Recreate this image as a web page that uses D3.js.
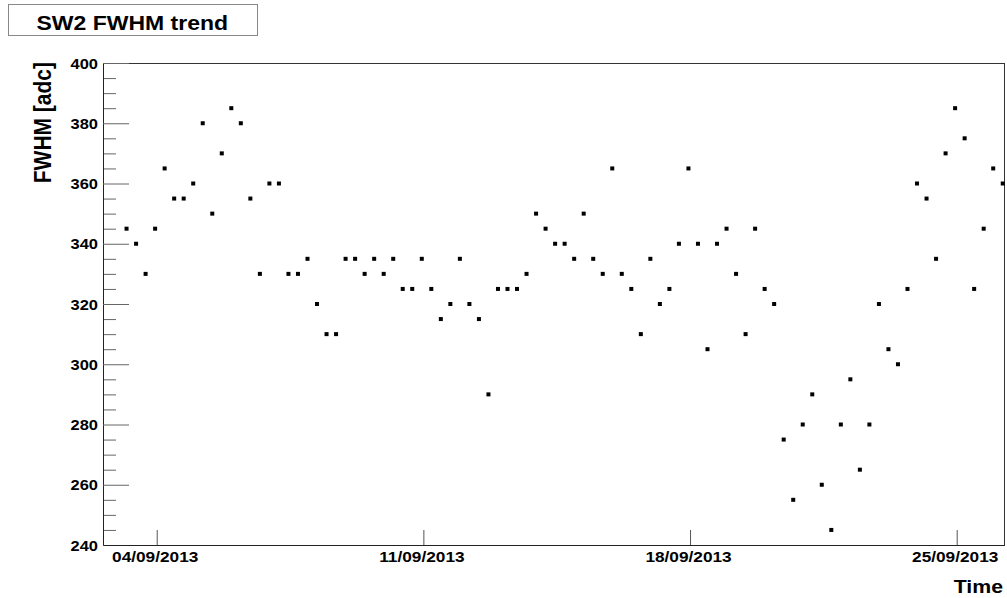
<!DOCTYPE html>
<html><head><meta charset="utf-8">
<script src="https://cdn.jsdelivr.net/npm/d3@7"></script>
<style>
body{margin:0;background:#fff}
text{font-family:"Liberation Sans",Arial,Helvetica,sans-serif;font-weight:bold;fill:#000}
</style>
</head><body>
<svg id="c" width="1007" height="598"></svg>
<script>
// ---------------- data ----------------
const times = [
 "2013-09-03 05:00","2013-09-03 11:00","2013-09-03 17:00","2013-09-03 23:00",
 "2013-09-04 05:00","2013-09-04 11:00","2013-09-04 17:00","2013-09-04 23:00",
 "2013-09-05 05:00","2013-09-05 11:00","2013-09-05 17:00","2013-09-05 23:00",
 "2013-09-06 05:00","2013-09-06 11:00","2013-09-06 17:00","2013-09-06 23:00",
 "2013-09-07 05:00","2013-09-07 11:00","2013-09-07 17:00","2013-09-07 23:00",
 "2013-09-08 05:00","2013-09-08 11:00","2013-09-08 17:00","2013-09-08 23:00",
 "2013-09-09 05:00","2013-09-09 11:00","2013-09-09 17:00","2013-09-09 23:00",
 "2013-09-10 05:00","2013-09-10 11:00","2013-09-10 17:00","2013-09-10 23:00",
 "2013-09-11 05:00","2013-09-11 11:00","2013-09-11 17:00","2013-09-11 23:00",
 "2013-09-12 05:00","2013-09-12 11:00","2013-09-12 17:00","2013-09-12 23:00",
 "2013-09-13 05:00","2013-09-13 11:00","2013-09-13 17:00","2013-09-13 23:00",
 "2013-09-14 05:00","2013-09-14 11:00","2013-09-14 17:00","2013-09-14 23:00",
 "2013-09-15 05:00","2013-09-15 11:00","2013-09-15 17:00","2013-09-15 23:00",
 "2013-09-16 05:00","2013-09-16 11:00","2013-09-16 17:00","2013-09-16 23:00",
 "2013-09-17 05:00","2013-09-17 11:00","2013-09-17 17:00","2013-09-17 23:00",
 "2013-09-18 05:00","2013-09-18 11:00","2013-09-18 17:00","2013-09-18 23:00",
 "2013-09-19 05:00","2013-09-19 11:00","2013-09-19 17:00","2013-09-19 23:00",
 "2013-09-20 05:00","2013-09-20 11:00","2013-09-20 17:00","2013-09-20 23:00",
 "2013-09-21 05:00","2013-09-21 11:00","2013-09-21 17:00","2013-09-21 23:00",
 "2013-09-22 05:00","2013-09-22 11:00","2013-09-22 17:00","2013-09-22 23:00",
 "2013-09-23 05:00","2013-09-23 11:00","2013-09-23 17:00","2013-09-23 23:00",
 "2013-09-24 05:00","2013-09-24 11:00","2013-09-24 17:00","2013-09-24 23:00",
 "2013-09-25 05:00","2013-09-25 11:00","2013-09-25 17:00","2013-09-25 23:00",
 "2013-09-26 05:00"
];
const fwhm = [
 345,340,330,345, 365,355,355,360, 380,350,370,385, 380,355,330,360,
 360,330,330,335, 320,310,310,335, 335,330,335,330, 335,325,325,335,
 325,315,320,335, 320,315,290,325, 325,325,330,350, 345,340,340,335,
 350,335,330,365, 330,325,310,335, 320,325,340,365, 340,305,340,345,
 330,310,345,325, 320,275,255,280, 290,260,245,280, 295,265,280,320,
 305,300,325,360, 355,335,370,385, 375,325,345,365, 360
];
const yMajorTicks = [240,260,280,300,320,340,360,380,400];
const yMinorTicks = [245,250,255,265,270,275,285,290,295,305,310,315,325,330,335,345,350,355,365,370,375,385,390,395];
const xTickDates  = ["2013-09-04 00:00","2013-09-11 00:00","2013-09-18 00:00","2013-09-25 00:00"];
const xTickLabels = ["04/09/2013","11/09/2013","18/09/2013","25/09/2013"];
const xDomainStr  = ["2013-09-02 14:10","2013-09-26 05:48"];
const yDomain     = [240,400];
const titleText = "SW2 FWHM trend";
const yTitleText = "FWHM [adc]";
const xTitleText = "Time";

// ---------------- drawing ----------------
const SX = 1.15; // horizontal stretch of the reference glyphs
const parse = d3.utcParse("%Y-%m-%d %H:%M");
const svg = d3.select("#c");
const L = 103, R = 1004, T = 63, B = 545;

const x = d3.scaleUtc().domain(xDomainStr.map(parse)).range([L, R]);
const y = d3.scaleLinear().domain(yDomain).range([B, T]);

// frame
svg.append("rect").attr("x", L + 0.5).attr("y", T + 0.5)
  .attr("width", R - L).attr("height", B - T)
  .attr("fill", "none").attr("stroke", "#333").attr("stroke-width", 1);

// y minor ticks
const yMinor = svg.append("g").attr("transform", `translate(${L},0)`)
  .call(d3.axisLeft(y).tickValues(yMinorTicks).tickSize(-13).tickSizeOuter(0).tickFormat(""));
yMinor.select(".domain").remove();
yMinor.selectAll("line").attr("stroke", "#666");

// y major ticks + labels
const yAx = svg.append("g").attr("transform", `translate(${L},0)`)
  .call(d3.axisLeft(y).tickValues(yMajorTicks).tickSize(-26).tickSizeOuter(0).tickPadding(5));
yAx.select(".domain").attr("stroke", "#222");
yAx.selectAll("line").attr("stroke", "#666");
yAx.selectAll("text")
  .attr("font-size", 14.3).attr("font-family", null)
  .attr("x", -5 / SX).attr("dy", null).attr("y", 5)
  .attr("transform", `scale(${SX},1)`);

// x ticks + labels
const xAx = svg.append("g").attr("transform", `translate(0,${B})`)
  .call(d3.axisBottom(x).tickValues(xTickDates.map(parse)).tickSize(-15).tickSizeOuter(0)
    .tickFormat((d, i) => xTickLabels[i]));
xAx.select(".domain").attr("stroke", "#222");
xAx.selectAll("line").attr("stroke", "#555");
xAx.selectAll("text")
  .attr("font-size", 15).attr("font-family", null)
  .attr("y", 17.5).attr("dy", null).attr("x", -2 / SX)
  .attr("transform", `scale(${SX},1)`);

// markers
svg.append("g").selectAll("rect").data(fwhm).join("rect")
  .attr("x", (d, i) => x(parse(times[i])) - 2)
  .attr("y", d => y(d) - 2)
  .attr("width", 4).attr("height", 4)
  .attr("fill", "#000");

// title box
svg.append("rect").attr("x", 8.5).attr("y", 4.5).attr("width", 249).attr("height", 31)
  .attr("fill", "#fff").attr("stroke", "#888").attr("stroke-width", 1);
svg.append("text").attr("transform", `translate(36.5,29.5) scale(${SX},1)`)
  .attr("font-size", 20).text(titleText);

// axis titles
svg.append("text").attr("transform", `translate(1003,593) scale(${SX},1)`)
  .attr("font-size", 18.5).attr("text-anchor", "end").text(xTitleText);
svg.append("text").attr("transform", `translate(51,62) scale(${SX},1) rotate(-90)`)
  .attr("font-size", 21).attr("text-anchor", "end").text(yTitleText);
</script>
</body></html>
